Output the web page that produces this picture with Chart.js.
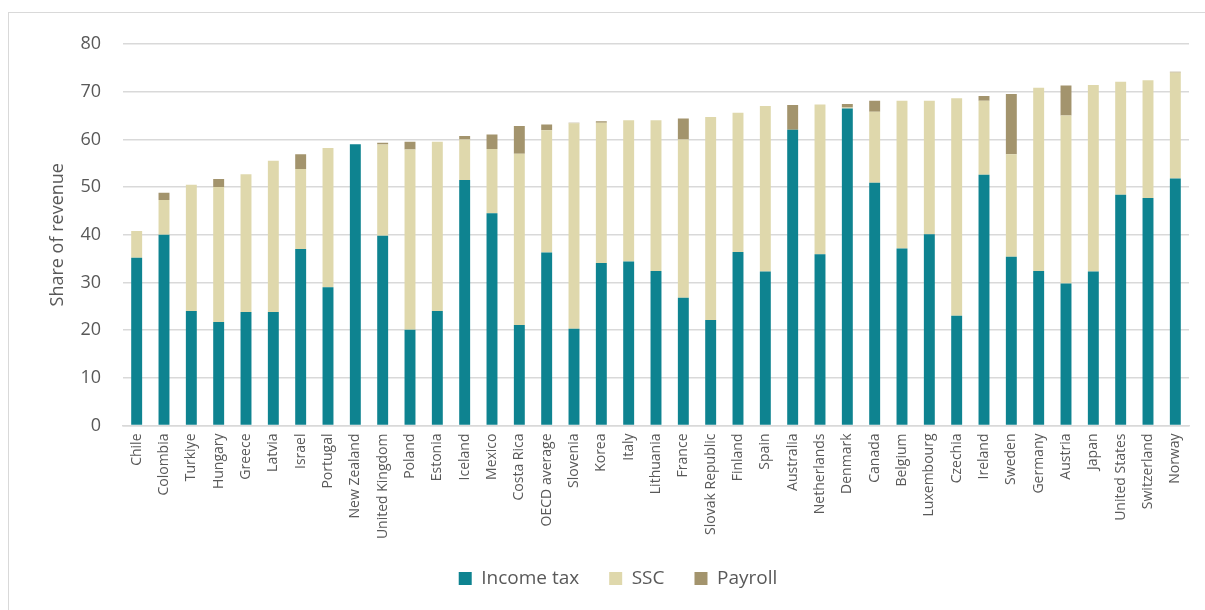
<!DOCTYPE html>
<html>
<head>
<meta charset="utf-8">
<script src="https://cdn.jsdelivr.net/npm/chart.js@4.4.1/dist/chart.umd.min.js"></script>
<style>
  body { margin: 0; background: #fff; }
  #frame { position: absolute; left: 8px; top: 12px; width: 1205px; height: 600px; border: 1px solid #d9d9d9; }
  canvas { position: absolute; left: 0; top: 0; }
</style>
</head>
<body>
<div id="frame"></div>
<canvas id="revChart" width="1205" height="610"></canvas>
<script>
const countries = ['Chile', 'Colombia', 'Turkiye', 'Hungary', 'Greece', 'Latvia', 'Israel', 'Portugal',
  'New Zealand', 'United Kingdom', 'Poland', 'Estonia', 'Iceland', 'Mexico', 'Costa Rica', 'OECD average',
  'Slovenia', 'Korea', 'Italy', 'Lithuania', 'France', 'Slovak Republic', 'Finland', 'Spain', 'Australia',
  'Netherlands', 'Denmark', 'Canada', 'Belgium', 'Luxembourg', 'Czechia', 'Ireland', 'Sweden', 'Germany',
  'Austria', 'Japan', 'United States', 'Switzerland', 'Norway'];

const incomeTax = [35.2, 40.0, 24.0, 21.7, 23.8, 23.8, 37.0, 29.0, 59.0, 39.8, 20.1, 24.0, 51.5, 44.5, 21.1, 36.3,
  20.3, 34.1, 34.4, 32.4, 26.8, 22.1, 36.4, 32.3, 62.0, 35.9, 66.5, 50.9, 37.1, 40.1, 23.0, 52.6, 35.4, 32.4,
  29.8, 32.3, 48.4, 47.7, 51.8];
const ssc = [5.6, 7.3, 26.5, 28.3, 28.9, 31.7, 16.8, 29.2, 0, 19.1, 37.8, 35.5, 8.5, 13.5, 35.9, 25.6,
  43.1, 29.4, 29.6, 31.6, 33.2, 42.6, 29.2, 34.7, 0, 31.4, 0.2, 14.9, 31.0, 28.0, 45.6, 15.5, 21.5, 38.4,
  35.2, 39.1, 23.7, 24.7, 22.2];
const payroll = [0, 1.5, 0, 1.7, 0, 0, 3.1, 0, 0, 0.4, 1.6, 0, 0.7, 3.0, 5.8, 1.2,
  0.1, 0.3, 0, 0, 4.4, 0, 0, 0, 5.2, 0, 0.7, 2.3, 0, 0, 0, 1.0, 12.6, 0,
  6.3, 0, 0, 0, 0.2];

const yTicks = [0, 10, 20, 30, 40, 50, 60, 70, 80];

const grey = '#595959';
const gridColor = '#d9d9d9';

const ctx = document.getElementById('revChart').getContext('2d');
const revChart = new Chart(ctx, {
  type: 'bar',
  data: {
    labels: countries,
    datasets: [
      { label: 'Income tax', data: incomeTax, backgroundColor: '#0e8390' },
      { label: 'SSC', data: ssc, backgroundColor: '#dfd8ac' },
      { label: 'Payroll', data: payroll, backgroundColor: '#a3946d' }
    ]
  },
  options: {
    responsive: false,
    animation: false,
    layout: { padding: { top: 44, left: 47, right: 16, bottom: 12 } },
    datasets: { bar: { categoryPercentage: 1, barPercentage: 0.4, borderWidth: 0 } },
    plugins: {
      tooltip: { enabled: false },
      legend: {
        position: 'bottom',
        labels: {
          boxWidth: 13,
          boxHeight: 13,
          padding: 30,
          color: grey,
          font: { family: 'Open Sans', size: 19 }
        }
      }
    },
    scales: {
      x: {
        stacked: true,
        grid: { display: false, drawTicks: false },
        border: { color: gridColor, width: 1.5 },
        ticks: {
          autoSkip: false,
          minRotation: 90,
          maxRotation: 90,
          padding: 8,
          color: grey,
          font: { family: 'Open Sans', size: 14 }
        },
        afterFit: (scale) => { scale.height = 113.5; }
      },
      y: {
        stacked: true,
        min: 0,
        max: 80,
        afterBuildTicks: (scale) => { scale.ticks = yTicks.map(v => ({ value: v })); },
        grid: { color: gridColor, lineWidth: 1.5, drawTicks: false },
        border: { display: false },
        ticks: {
          padding: 22,
          color: grey,
          font: { family: 'Open Sans', size: 18 }
        },
        title: {
          display: true,
          text: 'Share of revenue',
          color: grey,
          padding: 0,
          font: { family: 'Open Sans', size: 18 }
        },
        afterFit: (scale) => { scale.width = 76; }
      }
    }
  }
});
</script>
</body>
</html>
